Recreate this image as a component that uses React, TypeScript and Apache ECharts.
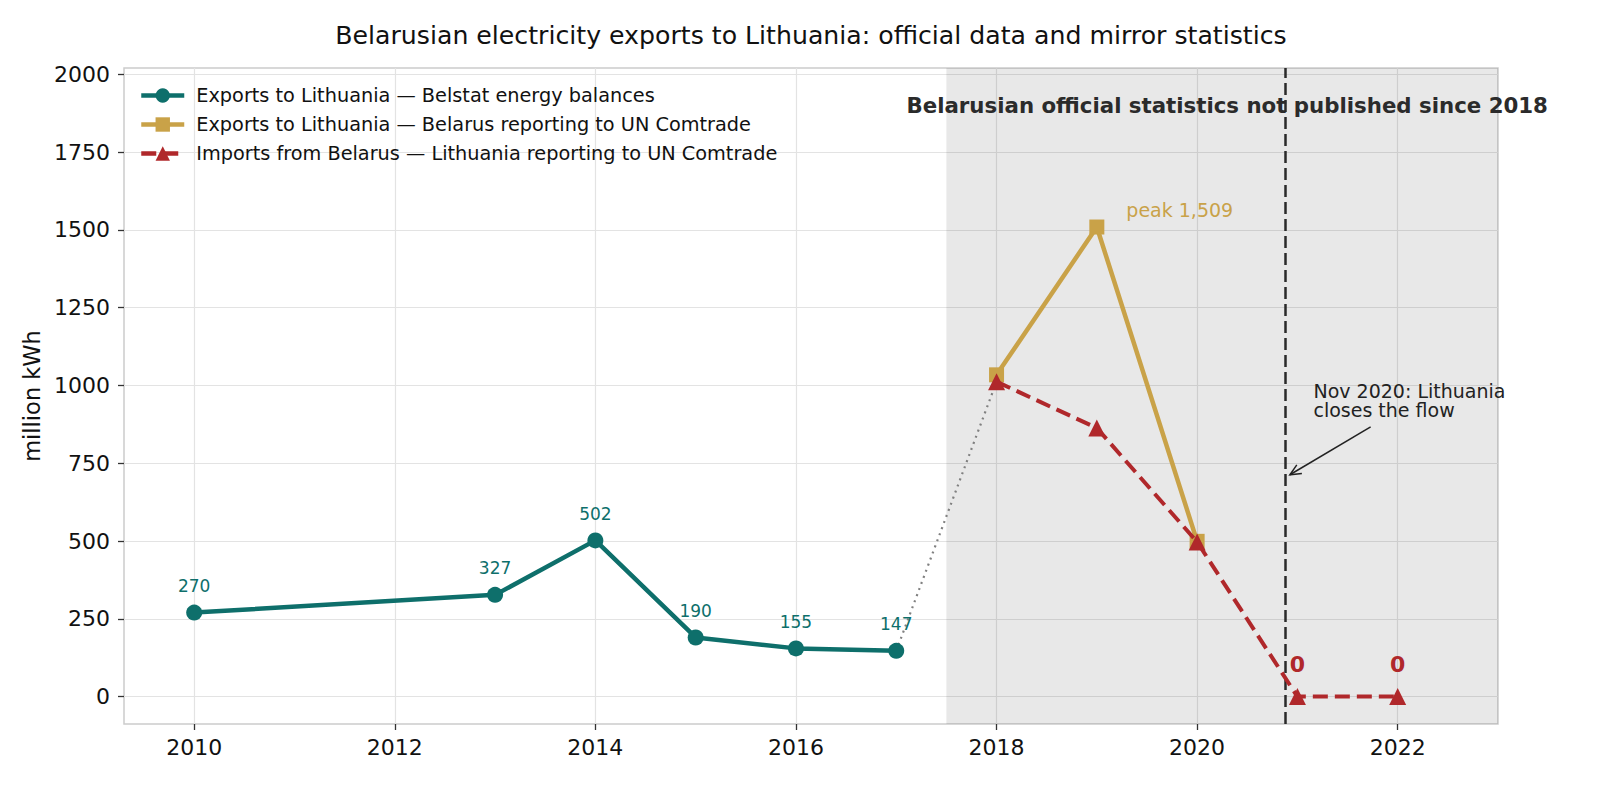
import React, { useEffect, useRef } from "react";
import * as echarts from "echarts";

const FONT = "DejaVu Sans";

const belstatYears = [2010, 2013, 2014, 2015, 2016, 2017];
const belstatValues = [270, 327, 502, 190, 155, 147];

const byComtradeYears = [2018, 2019, 2020];
const byComtradeValues = [1034, 1509, 499];

const ltComtradeYears = [2018, 2019, 2020, 2021, 2022];
const ltComtradeValues = [1012, 863, 497, 0, 0];

const xTicks = [2010, 2012, 2014, 2016, 2018, 2020, 2022];
const yTicks = [0, 250, 500, 750, 1000, 1250, 1500, 1750, 2000];

const X_MIN = 2009.3;
const X_MAX = 2023.0;
const Y_MIN = -88;
const Y_MAX = 2020;
const SHADE_START = 2017.5;
const CLOSURE_X = 2020.875;

const TEAL = "#0e6f6b";
const GOLD = "#c9a248";
const RED = "#b0282b";

const names = {
  belstat: "Exports to Lithuania — Belstat energy balances",
  by: "Exports to Lithuania — Belarus reporting to UN Comtrade",
  lt: "Imports from Belarus — Lithuania reporting to UN Comtrade",
};

export default function App() {
  const ref = useRef<HTMLDivElement>(null);

  useEffect(() => {
    document.body.style.margin = "0";
    const chart = echarts.init(ref.current!, null, { renderer: "svg" });

    const belstatData = belstatYears.map((y, i) => [y, belstatValues[i]]);
    const byData = byComtradeYears.map((y, i) => {
      const d: any = { value: [y, byComtradeValues[i]] };
      if (byComtradeValues[i] === Math.max(...byComtradeValues)) {
        d.label = {
          show: true,
          formatter: "peak " + byComtradeValues[i].toLocaleString("en-US"),
          position: [37, -10],
          align: "left",
          verticalAlign: "middle",
          color: GOLD,
          fontSize: 19,
          fontFamily: FONT,
        };
      }
      return d;
    });
    const ltData = ltComtradeYears.map((y, i) => {
      const d: any = { value: [y, ltComtradeValues[i]] };
      if (ltComtradeValues[i] === 0) {
        d.label = {
          show: true,
          position: "top",
          distance: 13,
          formatter: "0",
          color: RED,
          fontSize: 22,
          fontWeight: "bold",
          fontFamily: FONT,
        };
      }
      return d;
    });
    const connectorData = [
      [belstatYears[belstatYears.length - 1], belstatValues[belstatValues.length - 1]],
      [ltComtradeYears[0], ltComtradeValues[0]],
    ];

    chart.setOption({
      animation: false,
      backgroundColor: "#ffffff",
      textStyle: { fontFamily: FONT },
      title: {
        text: "Belarusian electricity exports to Lithuania: official data and mirror statistics",
        left: 811,
        top: 23,
        textAlign: "center",
        padding: 0,
        textStyle: { fontFamily: FONT, fontSize: 25.2, fontWeight: "normal", color: "#111" },
      },
      legend: {
        orient: "vertical",
        left: 139,
        top: 86,
        itemWidth: 43,
        itemHeight: 18,
        itemGap: 10,
        padding: 0,
        lineStyle: { width: 4.5 },
        textStyle: { fontFamily: FONT, fontSize: 19.3, color: "#111", padding: [0, 0, 0, 7] },
        data: [names.belstat, names.by, names.lt],
      },
      grid: {
        left: 124,
        right: 102,
        top: 68,
        bottom: 61,
        show: true,
        borderColor: "#cccccc",
        borderWidth: 1.5,
        backgroundColor: "transparent",
        outerBoundsMode: "none",
        containLabel: false,
      },
      xAxis: {
        type: "value",
        min: X_MIN,
        max: X_MAX,
        axisLine: { show: false, onZero: false },
        axisTick: { show: true, customValues: xTicks, length: 6, lineStyle: { color: "#333", width: 1.3 } },
        axisLabel: {
          customValues: xTicks,
          formatter: (v: number) => String(v),
          fontFamily: FONT,
          fontSize: 22,
          color: "#111",
          margin: 12,
        },
        splitLine: { show: true, lineStyle: { color: "#e3e3e3", width: 1.2 } },
      },
      yAxis: {
        type: "value",
        min: Y_MIN,
        max: Y_MAX,
        name: "million kWh",
        nameLocation: "middle",
        nameGap: 81,
        nameTextStyle: { fontFamily: FONT, fontSize: 22.5, color: "#111" },
        axisLine: { show: false, onZero: false },
        axisTick: { show: true, customValues: yTicks, length: 6, lineStyle: { color: "#333", width: 1.3 } },
        axisLabel: {
          customValues: yTicks,
          formatter: (v: number) => String(v),
          fontFamily: FONT,
          fontSize: 22,
          color: "#111",
          margin: 14,
        },
        splitLine: { show: true, lineStyle: { color: "#e3e3e3", width: 1.2 } },
      },
      series: [
        {
          name: "shade",
          type: "line",
          data: [],
          z: 1,
          silent: true,
          markArea: {
            silent: true,
            itemStyle: { color: "rgba(0,0,0,0.09)" },
            data: [[{ xAxis: SHADE_START }, { xAxis: X_MAX }]],
          },
          markLine: {
            silent: true,
            symbol: ["none", "none"],
            label: { show: false },
            lineStyle: { color: "#2a2a2a", width: 2.5, type: [12, 5] },
            data: [{ xAxis: CLOSURE_X }],
          },
        },
        {
          name: "connector",
          type: "line",
          data: connectorData,
          z: 2,
          symbol: "none",
          lineStyle: { color: "#808080", width: 2.2, type: [2, 4.5] },
        },
        {
          name: names.belstat,
          type: "line",
          data: belstatData,
          z: 3,
          symbol: "circle",
          symbolSize: 16,
          itemStyle: { color: TEAL },
          lineStyle: { color: TEAL, width: 4.5 },
          label: {
            show: true,
            position: "top",
            distance: 10,
            color: TEAL,
            fontSize: 17,
            fontFamily: FONT,
          },
          emphasis: { disabled: true },
        },
        {
          name: names.by,
          type: "line",
          data: byData,
          z: 4,
          symbol: "rect",
          symbolSize: 15,
          itemStyle: { color: GOLD },
          lineStyle: { color: GOLD, width: 4.5 },
          emphasis: { disabled: true },
        },
        {
          name: names.lt,
          type: "line",
          data: ltData,
          z: 5,
          symbol: "triangle",
          symbolSize: 17,
          itemStyle: { color: RED },
          lineStyle: { color: RED, width: 4, type: [15, 7] },
          emphasis: { disabled: true },
        },
      ],
    });

    const px = (x: number, y: number) => chart.convertToPixel({ gridIndex: 0 }, [x, y]) as number[];
    const boldPos = px(2020.3, 1900);
    const notePos = px(2021.16, 1013);
    const aS = px(2021.73, 867);
    const aE = px(2020.925, 713);
    const dx = aE[0] - aS[0];
    const dy = aE[1] - aS[1];
    const len = Math.sqrt(dx * dx + dy * dy);
    const ux = dx / len;
    const uy = dy / len;
    const hl = 11;
    const hw = 5;
    const head = [
      [aE[0] - ux * hl - uy * hw, aE[1] - uy * hl + ux * hw],
      [aE[0], aE[1]],
      [aE[0] - ux * hl + uy * hw, aE[1] - uy * hl - ux * hw],
    ];

    chart.setOption({
      graphic: [
        {
          type: "text",
          x: boldPos[0],
          y: boldPos[1],
          z: 10,
          style: {
            text: "Belarusian official statistics not published since 2018",
            fill: "#2b2b2b",
            font: `bold 21.3px "${FONT}"`,
            textAlign: "center",
            textVerticalAlign: "middle",
          },
        },
        {
          type: "text",
          x: notePos[0],
          y: notePos[1],
          z: 10,
          style: {
            text: "Nov 2020: Lithuania\ncloses the flow",
            fill: "#222",
            font: `19px "${FONT}"`,
            lineHeight: 19,
            textAlign: "left",
            textVerticalAlign: "top",
          },
        },
        {
          type: "line",
          z: 10,
          shape: { x1: aS[0], y1: aS[1], x2: aE[0], y2: aE[1] },
          style: { stroke: "#222", lineWidth: 1.5 },
        },
        {
          type: "polyline",
          z: 10,
          shape: { points: head },
          style: { stroke: "#222", lineWidth: 1.5, fill: "none" },
        },
      ],
    });

    return () => chart.dispose();
  }, []);

  return (
    <div
      ref={ref}
      style={{ position: "absolute", left: 0, top: 0, width: 1600, height: 785 }}
    />
  );
}
